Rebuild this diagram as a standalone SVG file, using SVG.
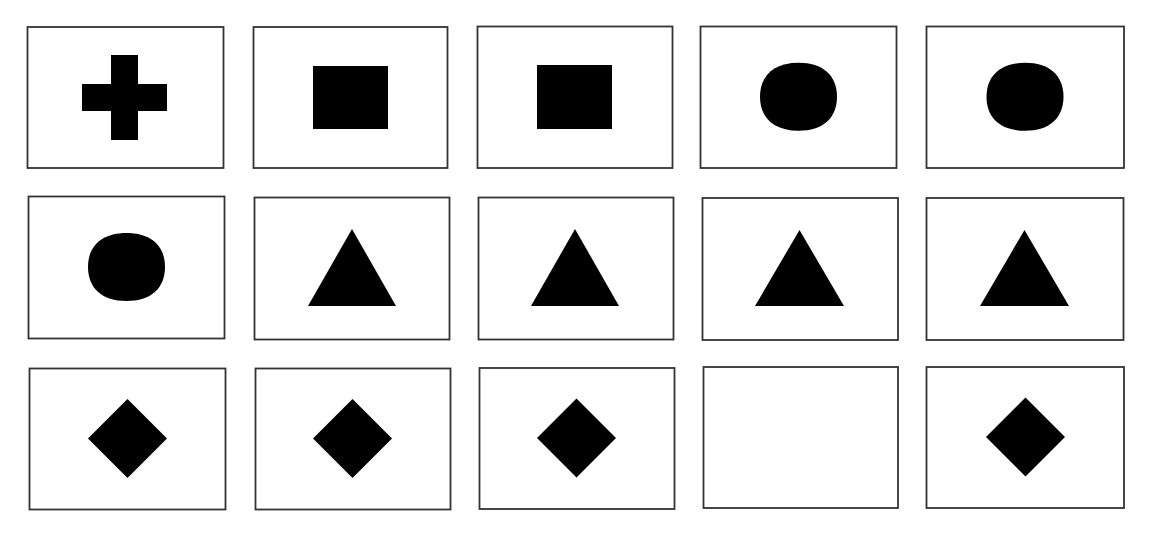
<svg xmlns="http://www.w3.org/2000/svg" width="1152" height="535" viewBox="0 0 1152 535">
<style>
.box{fill:#fff;stroke:#333;stroke-width:1.8}
.shape{fill:#000;stroke:none}
</style>
<defs>
<path id="blob" d="M0,-34 C24.3,-34 38.5,-21.4 38.5,0 C38.5,21.4 24.3,34 0,34 C-24.3,34 -38.5,21.4 -38.5,0 C-38.5,-21.4 -24.3,-34 0,-34Z"/>
</defs>
<rect width="1152" height="535" fill="#fff"/>
<g id="r1c1"><rect class="box" x="27.5" y="27" width="196" height="141"/>
<path class="shape" d="M111 55H138V84H167V111H138V140H111V111H82V84H111Z"/></g>
<g id="r1c2"><rect class="box" x="253.5" y="27" width="194" height="141"/>
<rect class="shape" x="313" y="66" width="75" height="63"/></g>
<g id="r1c3"><rect class="box" x="477.5" y="26.5" width="195" height="141.5"/>
<rect class="shape" x="537" y="65" width="75" height="64"/></g>
<g id="r1c4"><rect class="box" x="700.5" y="26.5" width="196" height="141.5"/>
<use class="shape" href="#blob" x="798.5" y="96.8"/></g>
<g id="r1c5"><rect class="box" x="926.5" y="26.5" width="197.5" height="141.5"/>
<use class="shape" href="#blob" x="1025" y="96.8"/></g>
<g id="r2c1"><rect class="box" x="28.5" y="196.5" width="196" height="142"/>
<use class="shape" href="#blob" x="126.5" y="267"/></g>
<g id="r2c2"><rect class="box" x="254.5" y="197.5" width="195" height="142"/>
<polygon class="shape" points="352,229 396,306 308,306"/></g>
<g id="r2c3"><rect class="box" x="478.5" y="197.5" width="195" height="142"/>
<polygon class="shape" points="575,229 619,306 531,306"/></g>
<g id="r2c4"><rect class="box" x="702.5" y="198" width="195.5" height="142"/>
<polygon class="shape" points="799.5,230 844,306 755,306"/></g>
<g id="r2c5"><rect class="box" x="926.5" y="198" width="197" height="142"/>
<polygon class="shape" points="1024.5,230 1069,306 980,306"/></g>
<g id="r3c1"><rect class="box" x="29.5" y="368.5" width="196" height="141"/>
<polygon class="shape" points="127.5,399 167,438.5 127.5,478 88,438.5"/></g>
<g id="r3c2"><rect class="box" x="255.5" y="368.5" width="195" height="141"/>
<polygon class="shape" points="352.5,399 392,438.5 352.5,478 313,438.5"/></g>
<g id="r3c3"><rect class="box" x="479.5" y="368" width="195" height="141"/>
<polygon class="shape" points="576.5,398.5 616,438 576.5,477.5 537,438"/></g>
<g id="r3c4"><rect class="box" x="703.5" y="367" width="194.5" height="141"/></g>
<g id="r3c5"><rect class="box" x="926.5" y="367" width="197.5" height="141"/>
<polygon class="shape" points="1025.5,397.5 1065,437 1025.5,476.5 986,437"/></g>
<g id="connectors"/>
</svg>
